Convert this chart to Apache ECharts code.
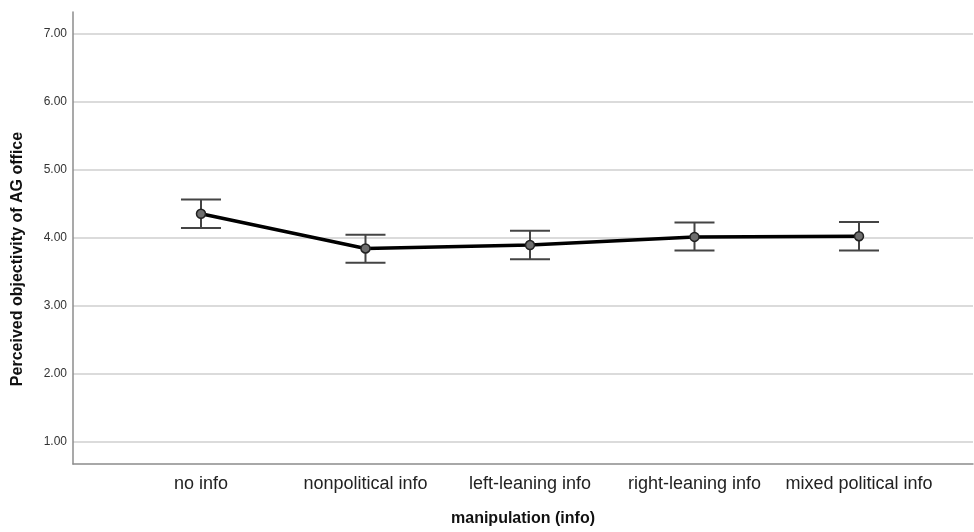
<!DOCTYPE html>
<html>
<head>
<meta charset="utf-8">
<script src="https://cdn.jsdelivr.net/npm/echarts@6/dist/echarts.min.js"></script>
<style>html,body{margin:0;padding:0;background:#fff}#c{width:974px;height:532px}</style>
</head>
<body>
<div id="c"></div>
<script>
const categories = ['no info', 'nonpolitical info', 'left-leaning info', 'right-leaning info', 'mixed political info'];
const means = [4.35, 3.84, 3.89, 4.01, 4.02];
const lower = [4.14, 3.63, 3.68, 3.81, 3.81];
const upper = [4.56, 4.04, 4.10, 4.22, 4.23];
const yTicks = [1, 2, 3, 4, 5, 6, 7];

const chart = echarts.init(document.getElementById('c'));
const font = 'Liberation Sans, Arial, sans-serif';
chart.setOption({
  animation: false,
  grid: { left: 73, right: 1, top: 12, bottom: 66, containLabel: false },
  xAxis: {
    type: 'value', min: -0.778, max: 4.693,
    name: 'manipulation (info)', nameLocation: 'middle', nameGap: 47,
    nameTextStyle: { fontFamily: font, fontSize: 16, fontWeight: 'bold', color: '#111' },
    axisLine: { show: true, onZero: false, lineStyle: { color: '#8c8c8c', width: 1.5 } },
    axisTick: { show: false },
    splitLine: { show: false },
    axisLabel: {
      customValues: [0, 1, 2, 3, 4],
      formatter: v => categories[Math.round(v)],
      fontFamily: font, fontSize: 18, color: '#222', margin: 11
    }
  },
  yAxis: {
    type: 'value', min: 0.667, max: 7.32,
    name: 'Perceived objectivity of AG office', nameLocation: 'middle', nameGap: 47,
    nameTextStyle: { fontFamily: font, fontSize: 16, fontWeight: 'bold', color: '#111', padding: [0, 42, 0, 0] },
    axisLine: { show: true, onZero: false, lineStyle: { color: '#8c8c8c', width: 1.5 } },
    axisTick: { show: false, customValues: yTicks },
    splitLine: { show: true, lineStyle: { color: '#cfcfcf', width: 1.5 } },
    axisLabel: {
      customValues: yTicks,
      formatter: v => v.toFixed(2),
      fontFamily: font, fontSize: 12, color: '#333', margin: 6
    }
  },
  series: [
    {
      type: 'custom',
      data: categories.map((c, i) => [i, lower[i], upper[i]]),
      encode: { x: 0, y: [1, 2] },
      z: 2,
      renderItem: function (params, api) {
        const x = api.value(0);
        const lo = api.coord([x, api.value(1)]);
        const hi = api.coord([x, api.value(2)]);
        const w = 20;
        const st = { stroke: '#444', lineWidth: 2, fill: 'none' };
        return {
          type: 'group',
          children: [
            { type: 'line', shape: { x1: lo[0], y1: lo[1], x2: hi[0], y2: hi[1] }, style: st },
            { type: 'line', shape: { x1: hi[0] - w, y1: hi[1], x2: hi[0] + w, y2: hi[1] }, style: st },
            { type: 'line', shape: { x1: lo[0] - w, y1: lo[1], x2: lo[0] + w, y2: lo[1] }, style: st }
          ]
        };
      }
    },
    {
      type: 'line',
      z: 3,
      data: means.map((m, i) => [i, m]),
      lineStyle: { color: '#000', width: 3.5 },
      symbol: 'circle', symbolSize: 9,
      itemStyle: { color: '#6e6e6e', borderColor: '#222', borderWidth: 1.5 }
    }
  ]
});
</script>
</body>
</html>
